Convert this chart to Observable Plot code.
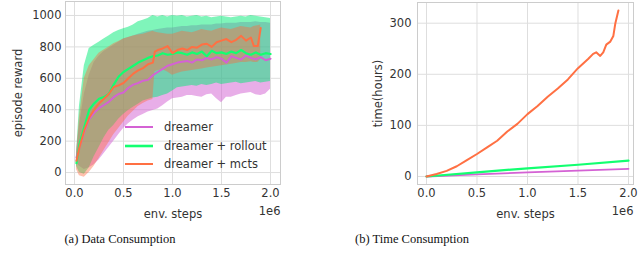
<!DOCTYPE html>
<html><head><meta charset="utf-8">
<script src="https://cdn.jsdelivr.net/npm/d3@7"></script>
<script src="https://cdn.jsdelivr.net/npm/@observablehq/plot@0.6"></script>
<style>
body{margin:0;background:#fff;width:640px;height:277px;overflow:hidden;position:relative;font-family:"DejaVu Sans",sans-serif;}
#left{position:absolute;left:0;top:0}
#right{position:absolute;left:320px;top:0}
.cap{position:absolute;top:232px;font-family:"Liberation Serif",serif;font-size:12.5px;color:#111;transform:translateX(-50%);white-space:nowrap;line-height:15px}
#legend{position:absolute;left:0;top:0}
</style>
</head><body>
<div id="left"></div>
<div id="right"></div>
<svg id="legend" width="320" height="200"></svg>
<div class="cap" style="left:120px">(a) Data Consumption</div>
<div class="cap" style="left:412px">(b) Time Consumption</div>
<script>
// ---- data (env. steps in units of 1e6) ----
const seriesNames = ["dreamer", "dreamer + rollout", "dreamer + mcts"];
const seriesColors = ["#d462d4", "#12ff70", "#ff7043"];
const bandColors = ["#d15dd1", "#00ec75", "#ff6a3c"];

const stepsA = [0.02,0.05,0.10,0.15,0.20,0.25,0.30,0.35,0.40,0.45,0.50,0.55,0.60,0.65,0.70,0.75,0.80,0.85,0.90,0.95,1.00,1.05,1.10,1.15,1.20,1.25,1.30,1.35,1.40,1.45,1.50,1.55,1.60,1.65,1.70,1.75,1.80,1.85,1.90,1.95,2.00];
const dreamerMean = [95,160,260,340,380,410,430,450,480,500,510,540,560,570,585,590,620,640,660,680,690,700,705,710,700,720,715,730,720,735,725,700,740,730,720,745,730,720,735,715,725];
const dreamerLow  = [60,40,20,30,50,80,120,160,200,240,280,310,335,355,370,385,395,405,425,450,470,475,480,490,490,485,480,495,500,470,445,480,480,490,500,505,510,495,490,500,530];
const dreamerHigh = [130,300,500,620,700,740,770,790,810,830,850,860,870,880,890,900,905,910,915,920,920,925,930,930,935,935,940,940,940,945,945,950,950,950,955,955,955,960,955,955,950];
const rolloutMean = [60,180,290,400,440,470,480,500,560,610,640,660,680,700,715,730,740,745,760,750,755,765,760,750,765,755,770,740,775,760,765,755,770,760,780,760,750,765,750,760,755];
const rolloutLow  = [40,0,-10,30,100,160,220,270,300,340,370,395,415,435,455,465,475,480,490,500,520,540,545,550,555,550,560,555,560,570,560,565,570,575,565,570,575,580,570,575,580];
const rolloutHigh = [110,420,680,790,810,830,850,870,890,905,915,925,940,960,970,980,1000,990,1000,990,1000,995,1000,990,995,1000,990,995,985,990,995,990,985,990,995,990,1000,995,990,985,980];

const stepsM = [0.02,0.05,0.10,0.15,0.20,0.25,0.30,0.35,0.40,0.45,0.50,0.55,0.60,0.65,0.70,0.75,0.80,0.82,0.85,0.90,0.95,1.00,1.05,1.10,1.15,1.20,1.25,1.30,1.35,1.40,1.45,1.50,1.55,1.60,1.65,1.70,1.75,1.80,1.83,1.87,1.90];
const mctsMean = [75,160,270,350,400,440,470,500,545,555,570,600,630,650,665,690,700,770,780,790,805,760,780,790,780,800,795,815,820,800,830,840,850,830,845,870,840,860,805,805,920];
const mctsLow  = [20,-20,-30,0,40,90,140,190,240,280,320,360,390,420,440,455,465,640,650,655,640,620,630,640,645,650,655,660,665,670,675,680,685,690,695,700,700,705,700,700,720];
const mctsHigh = [110,350,600,680,720,760,780,800,820,835,850,860,870,875,880,890,900,895,890,885,880,880,890,900,895,890,900,910,905,900,910,920,915,910,920,930,925,920,930,935,940];

const timeStepsMcts = [0,0.1,0.2,0.3,0.4,0.5,0.6,0.7,0.8,0.9,1.0,1.1,1.2,1.3,1.4,1.5,1.6,1.65,1.68,1.72,1.75,1.78,1.82,1.85,1.87,1.90];
const timeMcts = [0,5,11,20,32,44,57,70,88,103,122,138,156,172,190,212,230,240,243,236,243,258,264,275,300,325];
const timeStepsLin = [0,0.5,1.0,1.5,2.0];
const timeRollout = [0,8,16,23,31];
const timeDreamer = [0,4,8,11.5,15];

const xTicks = [0,0.5,1.0,1.5,2.0];
const rewardTicks = [0,200,400,600,800,1000];
const timeTicks = [0,100,200,300];

// ---- build tables ----
const band = (xs, lo, hi, mean) => xs.map((x,i)=>({x, lo: lo[i], hi: hi[i], m: mean[i]}));
const dreamerT = band(stepsA, dreamerLow, dreamerHigh, dreamerMean);
const rolloutT = band(stepsA, rolloutLow, rolloutHigh, rolloutMean);
const mctsT = band(stepsM, mctsLow, mctsHigh, mctsMean);
const pts = (xs, ys) => xs.map((x,i)=>({x, y: ys[i]}));

const style = {fontFamily:"DejaVu Sans", fontSize:"11.5px", color:"#333", background:"transparent", overflow:"visible"};
const gridStyle = {stroke:"#dedede", strokeOpacity:1, strokeWidth:1};
const fmt = d => d.toFixed(1);
const fmtInt = d => String(d);

const left = Plot.plot({
  width: 320, height: 222,
  marginLeft: 65, marginRight: 40, marginTop: 1, marginBottom: 38,
  style,
  x: {domain: [-0.092, 2.102]},
  y: {domain: [-76, 1089]},
  marks: [
    Plot.gridX(xTicks, gridStyle),
    Plot.gridY(rewardTicks, gridStyle),
    Plot.frame({stroke:"#cccccc"}),
    Plot.areaY(dreamerT, {x:"x", y1:"lo", y2:"hi", fill: bandColors[0], fillOpacity: 0.5}),
    Plot.areaY(rolloutT, {x:"x", y1:"lo", y2:"hi", fill: bandColors[1], fillOpacity: 0.5}),
    Plot.areaY(mctsT, {x:"x", y1:"lo", y2:"hi", fill: bandColors[2], fillOpacity: 0.42}),
    Plot.line(dreamerT, {x:"x", y:"m", stroke: seriesColors[0], strokeWidth: 2}),
    Plot.line(rolloutT, {x:"x", y:"m", stroke: seriesColors[1], strokeWidth: 2.2}),
    Plot.line(mctsT, {x:"x", y:"m", stroke: seriesColors[2], strokeWidth: 2}),
    Plot.axisX(xTicks, {tickSize: 0, tickPadding: 4, tickFormat: fmt, label: "env. steps", labelAnchor: "center", labelOffset: 33, labelArrow: "none"}),
    Plot.axisY(rewardTicks, {tickSize: 0, tickPadding: 4, tickFormat: fmtInt, label: "episode reward", labelAnchor: "center", labelOffset: 52, labelArrow: "none"}),
    Plot.text(["1e6"], {frameAnchor: "bottom-right", dy: 27, textAnchor: "end", lineAnchor: "middle"})
  ]
});
document.getElementById("left").append(left);

const right = Plot.plot({
  width: 320, height: 222,
  marginLeft: 97, marginRight: 7, marginTop: 2, marginBottom: 38,
  style,
  x: {domain: [-0.089, 2.0495]},
  y: {domain: [-15.7, 340.5]},
  marks: [
    Plot.gridX(xTicks, gridStyle),
    Plot.gridY(timeTicks, gridStyle),
    Plot.frame({stroke:"#cccccc"}),
    Plot.line(pts(timeStepsLin, timeDreamer), {x:"x", y:"y", stroke: seriesColors[0], strokeWidth: 1.8}),
    Plot.line(pts(timeStepsLin, timeRollout), {x:"x", y:"y", stroke: seriesColors[1], strokeWidth: 2.2}),
    Plot.line(pts(timeStepsMcts, timeMcts), {x:"x", y:"y", stroke: seriesColors[2], strokeWidth: 2}),
    Plot.axisX(xTicks, {tickSize: 0, tickPadding: 4, tickFormat: fmt, label: "env. steps", labelAnchor: "center", labelOffset: 33, labelArrow: "none"}),
    Plot.axisY(timeTicks, {tickSize: 0, tickPadding: 6, tickFormat: fmtInt, label: "time(hours)", labelAnchor: "center", labelOffset: 44, labelArrow: "none"}),
    Plot.text(["1e6"], {frameAnchor: "bottom-right", dy: 27, textAnchor: "end", lineAnchor: "middle"})
  ]
});
document.getElementById("right").append(right);

// ---- legend (inside left panel, lower right) ----
const leg = d3.select("#legend");
const rows = [127, 146, 164];
seriesNames.forEach((name, i) => {
  leg.append("line").attr("x1", 125).attr("x2", 153).attr("y1", rows[i]).attr("y2", rows[i])
    .attr("stroke", seriesColors[i]).attr("stroke-width", i === 1 ? 2.6 : 2);
  leg.append("text").attr("x", 164).attr("y", rows[i]).attr("dy", "0.35em")
    .attr("font-family", "DejaVu Sans").attr("font-size", 11.5).attr("fill", "#333").text(name);
});
</script>
</body></html>
